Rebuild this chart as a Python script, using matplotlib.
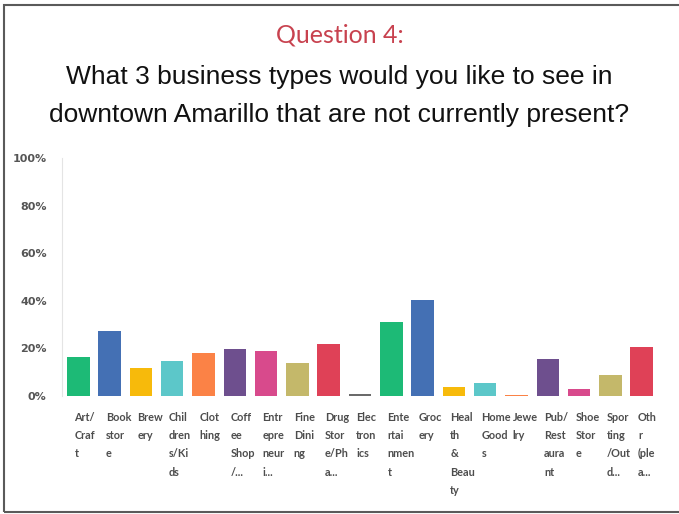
import matplotlib.pyplot as plt
from matplotlib.patches import Rectangle
from matplotlib.transforms import blended_transform_factory

# chart data
categories = ["Art/\nCraf\nt", "Book\nstor\ne", "Brew\nery", "Chil\ndren\ns/Ki\nds",
              "Clot\nhing", "Coff\nee\nShop\n/...", "Entr\nepre\nneur\ni...",
              "Fine\nDini\nng", "Drug\nStor\ne/Ph\na...", "Elec\ntron\nics",
              "Ente\nrtai\nnmen\nt", "Groc\nery", "Heal\nth\n&\nBeau\nty",
              "Home\nGood\ns", "Jewe\nlry", "Pub/\nRest\naura\nnt", "Shoe\nStor\ne",
              "Spor\nting\n/Out\nd...", "Oth\nr\n(ple\na..."]
values = [16.5, 27.5, 11.8, 14.5, 18, 19.8, 18.8, 13.9, 22, 1.0,
          31, 40.3, 3.7, 5.6, 0.6, 15.4, 2.9, 8.7, 20.7]
yticks = [0, 20, 40, 60, 80, 100]
ytick_labels = ["0%", "20%", "40%", "60%", "80%", "100%"]

palette = ["#1dba76", "#4470b4", "#f7ba0b", "#5cc7c9", "#fb8246",
           "#6e4f8e", "#d84a8c", "#c4b86a", "#df4157", "#6b6b6b"]
colors = [palette[i % len(palette)] for i in range(len(values))]

W, H = 679, 514
fig = plt.figure(figsize=(W / 100, H / 100), dpi=100)
fig.patch.set_facecolor("white")

# slide border (right side runs off the picture)
fig.patches.append(Rectangle((3.5 / W, 1 - 511.5 / H), 1.2, (511.5 - 4.5) / H,
                             transform=fig.transFigure, fill=False,
                             edgecolor="#5a5a5a", linewidth=1.5))

fig.text(0.5, 1 - 43 / H, "Question 4:", ha="center", va="baseline",
         fontsize=18, family="Lato", color="#c8424f")
fig.text(0.5, 1 - 84 / H, "What 3 business types would you like to see in",
         ha="center", va="baseline", fontsize=19, family="Liberation Sans",
         color="#111111")
fig.text(0.5, 1 - 122 / H, "downtown Amarillo that are not currently present?",
         ha="center", va="baseline", fontsize=19, family="Liberation Sans",
         color="#111111")

ax = fig.add_axes([62 / W, 1 - 396 / H, (658 - 62) / W, (396 - 158) / H])
x = list(range(len(values)))
ax.bar(x, values, width=0.72, color=colors)
ax.set_xlim(-0.52, len(values) - 0.48)
ax.set_ylim(0, 100)
ax.set_yticks(yticks)
ax.set_yticklabels(ytick_labels, fontsize=8, fontweight="bold",
                   family="DejaVu Sans", color="#555555")
ax.tick_params(axis="y", length=0, pad=11)
ax.set_xticks([])
for s in ["top", "right", "bottom"]:
    ax.spines[s].set_visible(False)
ax.spines["left"].set_color("#e4e4e4")
ax.set_facecolor("none")

tr = blended_transform_factory(ax.transData, fig.transFigure)
for i, lab in enumerate(categories):
    ax.text(i - 0.12, 1 - 412 / H, lab, transform=tr, ha="left", va="top",
            fontsize=7.8, fontweight="bold", family="Lato", color="#4d4d4d",
            linespacing=1.8, clip_on=False)

fig.savefig("out.png", dpi=100)
